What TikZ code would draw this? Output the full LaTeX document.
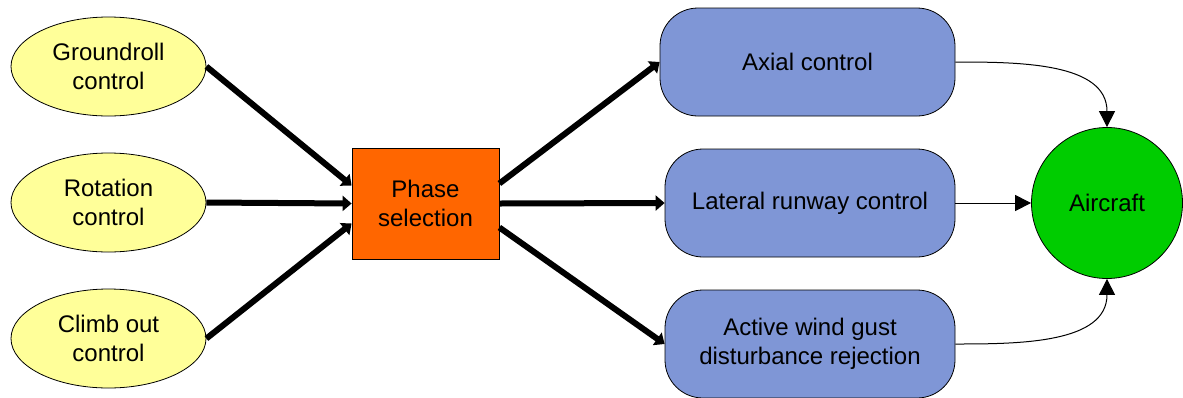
\documentclass[tikz,border=0pt]{standalone}
\usepackage{fontspec}
\setmainfont{Liberation Sans}
\usetikzlibrary{arrows.meta,shapes.geometric}
\definecolor{loopyellow}{HTML}{FFFF99}
\definecolor{phaseorange}{HTML}{FF6600}
\definecolor{ctrlblue}{HTML}{7F96D6}
\definecolor{planegreen}{HTML}{00CC00}
\tikzset{
  loopnode/.style={ellipse, draw=black, thin, fill=loopyellow, inner sep=0pt,
    minimum width=97.5pt, minimum height=49.5pt, align=center},
  selectbox/.style={rectangle, draw=black, thin, fill=phaseorange, inner sep=0pt,
    minimum width=73.5pt, minimum height=55.5pt, align=center},
  ctrlbox/.style={rectangle, rounded corners=19pt, draw=black, thin, fill=ctrlblue,
    inner sep=0pt, minimum width=145pt, minimum height=54pt, align=center},
  plantnode/.style={circle, draw=black, thin, fill=planegreen, inner sep=0pt,
    minimum size=75.5pt},
  bigarrow/.style={line width=3pt, -{Triangle[length=4.5pt,width=7.5pt]}},
  smallarrow/.style={line width=0.5pt, -{Triangle[length=8pt,width=8pt]}}
}

\begin{document}
\begin{tikzpicture}[x=0.5pt, y=-0.5pt, font=\fontsize{12}{14.5}\selectfont]
  \useasboundingbox (0,0) rectangle (1183,397);

  % the three loops
  \node[loopnode] (ground) at (108.5,66.5)  {Groundroll\\control};
  \node[loopnode] (rotate) at (108.5,202.5) {Rotation\\control};
  \node[loopnode] (climb)  at (108.5,338.5) {Climb out\\control};

  \node[selectbox] (phase) at (425.5,203.5) {Phase\\selection};

  % the controllers
  \node[ctrlbox, minimum width=147.5pt] (axial) at (807.5,62) {Axial control};
  \node[ctrlbox] (lateral) at (810,203) {Lateral runway control};
  \node[ctrlbox] (gust)    at (810,344) {Active wind gust\\disturbance rejection};

  \node[plantnode] (plane) at (1107,203) {Aircraft};

  \draw[bigarrow] (ground.east) -- ([yshift=9pt]phase.west);
  \draw[bigarrow] (rotate.east) -- (phase.west);
  \draw[bigarrow] (climb.east)  -- ([yshift=-10pt]phase.west);

  \draw[bigarrow] ([yshift=10pt]phase.east)  -- (axial.west);
  \draw[bigarrow] (phase.east)               -- (lateral.west);
  \draw[bigarrow] ([yshift=-12pt]phase.east) -- (gust.west);

  \draw[smallarrow] (axial.east) to[out=0, in=90] (plane.north);
  \draw[smallarrow] (lateral.east) -- (plane.west);
  \draw[smallarrow] (gust.east) to[out=0, in=-90] (plane.south);
\end{tikzpicture}
\end{document}
